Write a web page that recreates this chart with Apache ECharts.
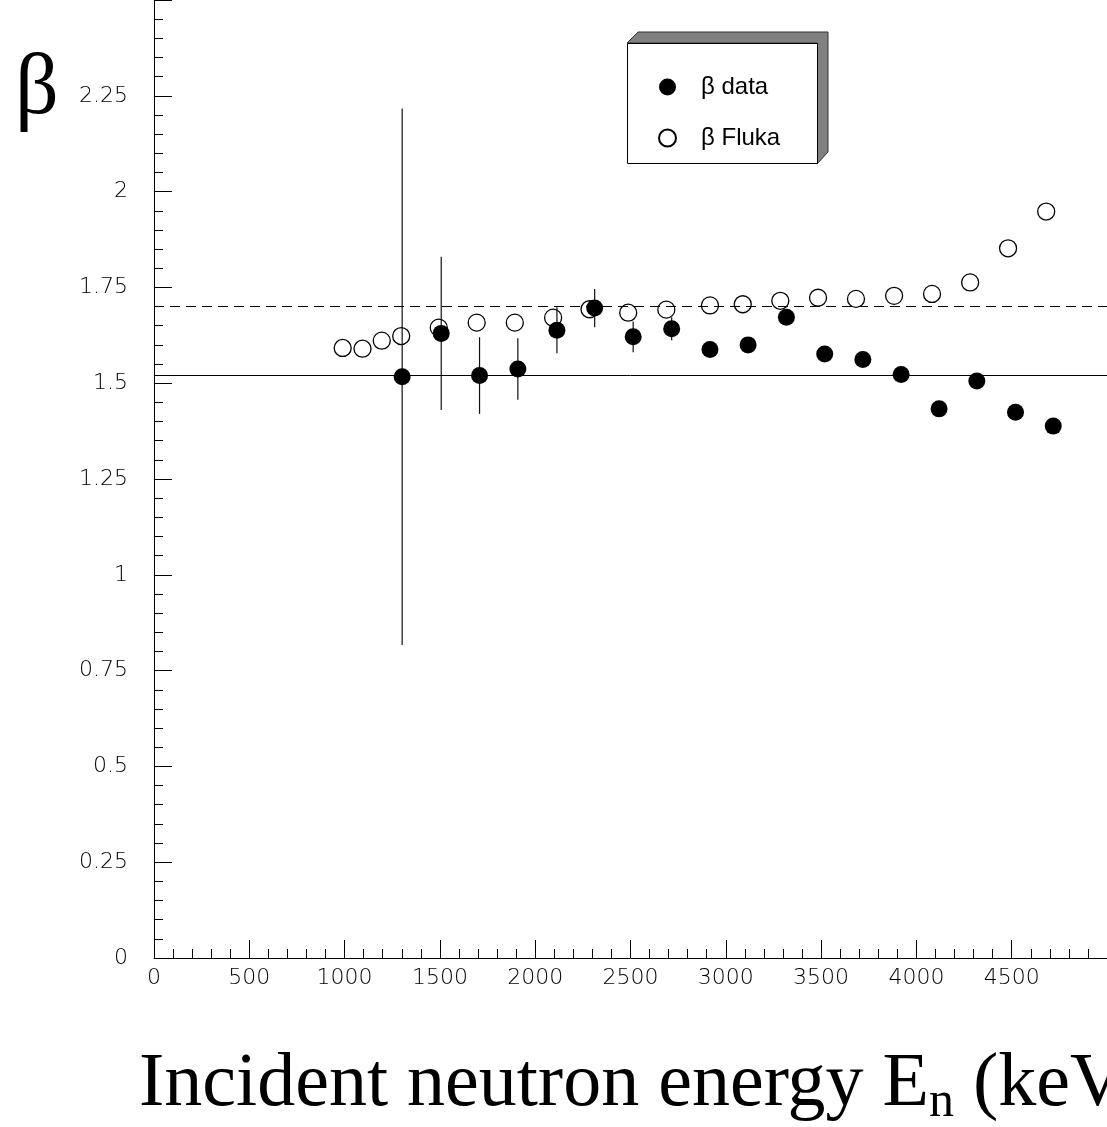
<!DOCTYPE html>
<html>
<head>
<meta charset="utf-8">
<script src="https://cdn.jsdelivr.net/npm/echarts@6/dist/echarts.min.js"></script>
<style>html,body{margin:0;padding:0;background:#fff}#c{width:1107px;height:1127px}</style>
</head>
<body>
<div id="c"></div>
<script>
// ---- data ----
const flukaX = [990, 1094, 1195, 1297, 1494, 1693, 1893, 2094, 2285, 2488, 2688, 2917, 3089, 3286, 3484, 3683, 3883, 4082, 4282, 4481, 4681];
const flukaY = [1.592, 1.590, 1.611, 1.623, 1.645, 1.658, 1.658, 1.671, 1.693, 1.684, 1.692, 1.703, 1.706, 1.715, 1.723, 1.720, 1.728, 1.733, 1.763, 1.852, 1.948];
const dataX = [1302, 1507, 1708, 1909, 2114, 2312, 2514, 2716, 2917, 3117, 3318, 3519, 3719, 3920, 4119, 4317, 4520, 4718];
const dataY = [1.517, 1.630, 1.520, 1.537, 1.638, 1.696, 1.621, 1.642, 1.588, 1.600, 1.672, 1.576, 1.562, 1.523, 1.433, 1.506, 1.424, 1.388];
const dataErr = [0.700, 0.200, 0.100, 0.080, 0.060, 0.050, 0.040, 0.030, 0.020, 0.020, 0.020, 0.020, 0.020, 0.020, 0.020, 0.020, 0.020, 0.020];
const refLineValues = [1.521, 1.696]; // solid, dashed
const xTickValues = [0, 500, 1000, 1500, 2000, 2500, 3000, 3500, 4000, 4500];
const yTickValues = [0, 0.25, 0.5, 0.75, 1, 1.25, 1.5, 1.75, 2, 2.25];
const legendNames = ['β data', 'β Fluka'];

const flukaPts = flukaX.map((x, i) => [x, flukaY[i]]);
const dataPts = dataX.map((x, i) => [x, dataY[i]]);
const errPts = dataX.map((x, i) => [x, dataY[i], dataErr[i]]);

const chart = echarts.init(document.getElementById('c'), null, {renderer: 'canvas'});
const tickFont = {fontFamily: 'DejaVu Sans', fontWeight: 200, fontSize: 22, color: '#000'};

chart.setOption({
  animation: false,
  backgroundColor: '#fff',
  grid: {left: 154, right: 0, top: -5.5, bottom: 169, containLabel: false},
  title: [
    {text: 'β', left: 10, top: 42, textStyle: {fontFamily: 'Liberation Serif', fontSize: 86, fontWeight: 'normal', color: '#000'}},
    {text: '{m|Incident neutron energy E}{s|n}{m| (keV)}', left: 134, top: 1037,
     textStyle: {rich: {
       m: {fontFamily: 'Liberation Serif', fontSize: 76, fontWeight: 'normal', color: '#000'},
       s: {fontFamily: 'Liberation Serif', fontSize: 50, fontWeight: 'normal', color: '#000', padding: [36, 0, 0, 0]}
     }}}
  ],
  legend: {
    data: legendNames,
    orient: 'vertical',
    left: 653, top: 70,
    itemWidth: 17, itemHeight: 17,
    itemGap: 27,
    textStyle: {fontFamily: 'Liberation Sans', fontSize: 24, color: '#000', padding: [0, 0, 0, 20], lineHeight: 24}
  },
  xAxis: {
    type: 'value', min: 0, max: 5000, interval: 500,
    axisLine: {lineStyle: {color: '#000', width: 1}},
    axisTick: {inside: true, length: 18, lineStyle: {color: '#000'}},
    minorTick: {show: true, splitNumber: 5, length: 9, lineStyle: {color: '#000'}},
    splitLine: {show: false},
    axisLabel: {margin: 9, showMaxLabel: false, ...tickFont,
      formatter: v => xTickValues.includes(v) ? String(v) : ''}
  },
  yAxis: {
    type: 'value', min: 0, max: 2.5, interval: 0.25,
    axisLine: {lineStyle: {color: '#000', width: 1}},
    axisTick: {inside: true, length: 18, lineStyle: {color: '#000'}},
    minorTick: {show: true, splitNumber: 5, length: 9, lineStyle: {color: '#000'}},
    splitLine: {show: false},
    axisLabel: {margin: 26, showMaxLabel: false, ...tickFont,
      formatter: v => yTickValues.includes(v) ? String(v) : ''}
  },
  graphic: [
    {type: 'polygon', z: 1, shape: {points: [[627, 43], [638, 32], [828, 32], [828, 152], [817, 164], [817, 43]]},
     style: {fill: '#808080', stroke: '#333', lineWidth: 1}},
    {type: 'rect', z: 2, shape: {x: 627.5, y: 43.5, width: 190, height: 120},
     style: {fill: '#fff', stroke: '#000', lineWidth: 1}}
  ],
  series: [
    {
      name: 'β Fluka', type: 'scatter', data: flukaPts, z: 2,
      symbol: 'circle', symbolSize: 17,
      itemStyle: {color: 'rgba(255,255,255,0)', borderColor: '#000', borderWidth: 1.3, opacity: 1},
      markLine: {
        silent: true, symbol: 'none', label: {show: false},
        data: [
          {yAxis: refLineValues[0], lineStyle: {color: '#000', width: 1, type: 'solid'}},
          {yAxis: refLineValues[1], lineStyle: {color: '#000', width: 1, type: [10, 6]}}
        ]
      }
    },
    {
      name: 'errors', type: 'custom', data: errPts, z: 3,
      encode: {x: 0, y: 1},
      renderItem: function (params, api) {
        const x = api.value(0), y = api.value(1), e = api.value(2);
        const p1 = api.coord([x, y - e]), p2 = api.coord([x, y + e]);
        return {type: 'line', shape: {x1: p1[0], y1: p1[1], x2: p2[0], y2: p2[1]},
                style: {stroke: '#111', lineWidth: 1.2}};
      }
    },
    {
      name: 'β data', type: 'scatter', data: dataPts, z: 4,
      symbol: 'circle', symbolSize: 17,
      itemStyle: {color: '#000', opacity: 1}
    }
  ]
});
</script>
</body>
</html>
